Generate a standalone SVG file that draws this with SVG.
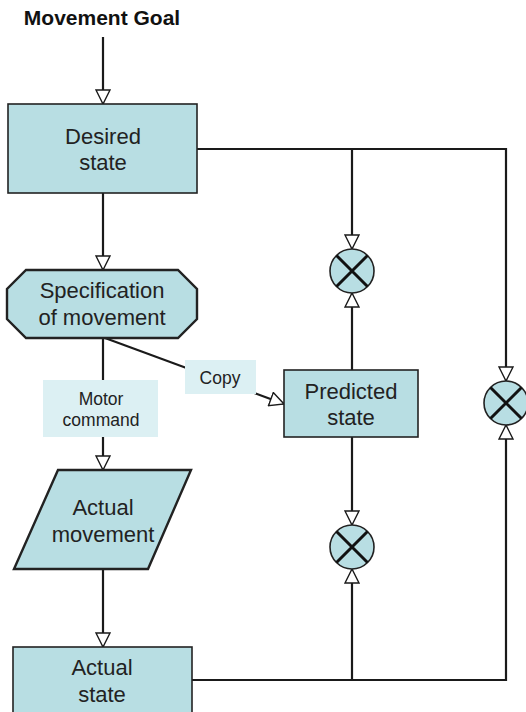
<svg xmlns="http://www.w3.org/2000/svg" width="526" height="712" viewBox="0 0 526 712">
<style>
.node{fill:#b8dee3;stroke:#222;stroke-width:1.6}
.thick{stroke-width:2.4}
.lbl{fill:#dcf0f3;stroke:none}
.t{font-family:"Liberation Sans",Arial,sans-serif;font-size:22px;fill:#222;text-anchor:middle}
.s{font-family:"Liberation Sans",Arial,sans-serif;font-size:17.5px;fill:#222;text-anchor:middle}
.c{fill:none;stroke:#1a1a1a;stroke-width:2.2}
.x{stroke:#111;stroke-width:3}
</style>
<defs>
<marker id="a" markerUnits="userSpaceOnUse" markerWidth="16" markerHeight="16" viewBox="-1 -1 16 16" refX="14" refY="7" orient="auto">
<path d="M0,0 L14,7 L0,14 Z" fill="#fff" stroke="#1a1a1a" stroke-width="1.4"/>
</marker>
</defs>
<rect width="526" height="712" fill="#fff"/>
<text x="102" y="25" font-family="Liberation Sans,Arial,sans-serif" font-weight="bold" font-size="21" fill="#111" text-anchor="middle">Movement Goal</text>
<g id="connectors">
<path class="c" d="M103,37 V104" marker-end="url(#a)"/>
<path class="c" d="M103,193 V270" marker-end="url(#a)"/>
<path class="c" d="M103,338 V470" marker-end="url(#a)"/>
<path class="c" d="M105,338 L284,404" marker-end="url(#a)"/>
<path class="c" d="M103,569 V647" marker-end="url(#a)"/>
<path class="c" d="M197,149 H506 V381" marker-end="url(#a)"/>
<path class="c" d="M352,149 V249" marker-end="url(#a)"/>
<path class="c" d="M352,370 V293" marker-end="url(#a)"/>
<path class="c" d="M352,437 V525" marker-end="url(#a)"/>
<path class="c" d="M192,680 H506 V425" marker-end="url(#a)"/>
<path class="c" d="M352,680 V569" marker-end="url(#a)"/>
<g id="label-motor">
<rect class="lbl" x="43" y="380" width="115" height="57"/>
<text class="s" x="101" y="405">Motor</text>
<text class="s" x="101" y="426">command</text>
</g>
<g id="label-copy">
<rect class="lbl" x="185" y="360" width="71" height="34"/>
<text class="s" x="220" y="384">Copy</text>
</g>
</g>
<g id="desired">
<rect class="node" x="8" y="104" width="189" height="89"/>
<text class="t" x="103" y="144">Desired</text>
<text class="t" x="103" y="170">state</text>
</g>
<g id="spec">
<polygon class="node thick" points="26,270 178,270 197,289 197,319 178,338 26,338 7,319 7,289"/>
<text class="t" x="102" y="298">Specification</text>
<text class="t" x="102" y="325">of movement</text>
</g>
<g id="actual-movement">
<polygon class="node thick" points="58,470 191,470 148,569 14,569"/>
<text class="t" x="103" y="515">Actual</text>
<text class="t" x="103" y="542">movement</text>
</g>
<g id="actual-state">
<rect class="node" x="13" y="647" width="179" height="80"/>
<text class="t" x="102" y="675">Actual</text>
<text class="t" x="102" y="702">state</text>
</g>
<g id="predicted">
<rect class="node" x="284" y="370" width="134" height="67"/>
<text class="t" x="351" y="399">Predicted</text>
<text class="t" x="351" y="425">state</text>
</g>
<g id="cmp-top">
<circle class="node" cx="352" cy="271" r="22"/>
<path class="x" d="M336.5,255.5 L367.5,286.5 M367.5,255.5 L336.5,286.5"/>
</g>
<g id="cmp-bottom">
<circle class="node" cx="352" cy="547" r="22"/>
<path class="x" d="M336.5,531.5 L367.5,562.5 M367.5,531.5 L336.5,562.5"/>
</g>
<g id="cmp-right">
<circle class="node" cx="506" cy="403" r="22"/>
<path class="x" d="M490.5,387.5 L521.5,418.5 M521.5,387.5 L490.5,418.5"/>
</g>
</svg>
